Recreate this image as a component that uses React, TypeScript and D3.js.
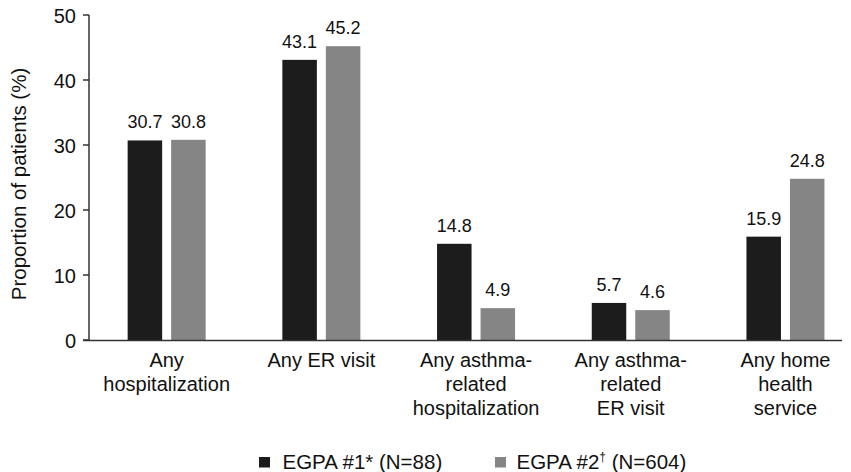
import React from "react";
import * as d3 from "d3";

const categories = [
  ["Any", "hospitalization"],
  ["Any ER visit"],
  ["Any asthma-", "related", "hospitalization"],
  ["Any asthma-", "related", "ER visit"],
  ["Any home", "health", "service"],
];
const series1 = [30.7, 43.1, 14.8, 5.7, 15.9];
const series2 = [30.8, 45.2, 4.9, 4.6, 24.8];
const seriesNames: [string, string, string][] = [
  ["EGPA #1*", "", " (N=88)"],
  ["EGPA #2", "\u2020", " (N=604)"],
];
const yTicks = [0, 10, 20, 30, 40, 50];

const W = 851;
const H = 472;
const colors = ["#1c1c1c", "#858585"];

export default function App() {
  const x = d3.scaleBand<number>().domain(d3.range(categories.length)).range([89.3, 862.8]).paddingInner(0).paddingOuter(0);
  const y = d3.scaleLinear().domain([0, 50]).range([340, 15]);
  const barW = 34.5;
  const gap = 9;
  const font = "Liberation Sans, Arial, sans-serif";
  const data = [series1, series2];
  return (
    <svg width={W} height={H} style={{ position: "absolute", left: 0, top: 0 }} fontFamily={font}>
      <rect width={W} height={H} fill="#fff" />
      {data.map((s, si) =>
        s.map((v, i) => {
          const cx = x(i)! + x.bandwidth() / 2;
          const bx = si === 0 ? cx - gap / 2 - barW : cx + gap / 2;
          return (
            <g key={`${si}-${i}`}>
              <rect x={bx} y={y(v)} width={barW} height={y(0) - y(v)} fill={colors[si]} />
              <text x={bx + barW / 2} y={y(v) - 12} textAnchor="middle" fontSize={18} fill="#111">
                {v.toFixed(1)}
              </text>
            </g>
          );
        })
      )}
      <line x1={89} x2={89} y1={15} y2={340.5} stroke="#333" strokeWidth={1.5} />
      <line x1={83} x2={842} y1={340.5} y2={340.5} stroke="#333" strokeWidth={1.5} />
      {yTicks.map((t) => (
        <g key={t}>
          <line x1={83} x2={89} y1={y(t)} y2={y(t)} stroke="#333" strokeWidth={1.5} />
          <text x={76} y={y(t) + 7.5} textAnchor="end" fontSize={20} fill="#111">
            {t}
          </text>
        </g>
      ))}
      <text transform={`translate(26,184) rotate(-90)`} textAnchor="middle" fontSize={20.5} fill="#111">
        Proportion of patients (%)
      </text>
      {categories.map((lines, i) => {
        const cx = x(i)! + x.bandwidth() / 2;
        return (
          <text key={i} textAnchor="middle" fontSize={20} fill="#111">
            {lines.map((l, j) => (
              <tspan key={j} x={cx} y={367 + j * 24}>
                {l}
              </tspan>
            ))}
          </text>
        );
      })}
      {seriesNames.map((n, i) => {
        const lx = i === 0 ? 259 : 495;
        return (
          <g key={i}>
            <rect x={lx} y={457} width={11} height={10.5} fill={colors[i]} />
            <text x={lx + (i === 0 ? 23.5 : 21.5)} y={468.5} fontSize={20.5} fill="#111">
              <tspan>{n[0]}</tspan>
              {n[1] ? (
                <tspan fontSize={12} dy={-8}>
                  {n[1]}
                </tspan>
              ) : null}
              <tspan dy={n[1] ? 8 : 0}>{n[2]}</tspan>
            </text>
          </g>
        );
      })}
    </svg>
  );
}
